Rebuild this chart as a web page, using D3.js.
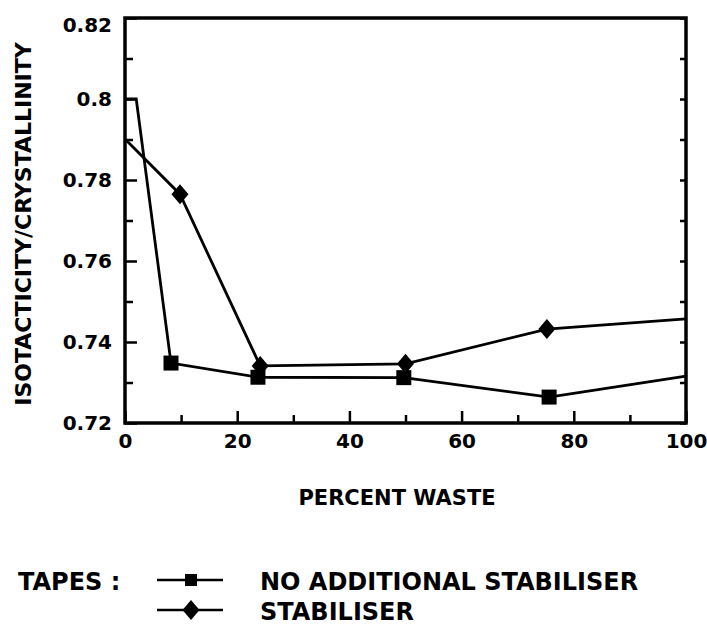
<!DOCTYPE html>
<html>
<head>
<meta charset="utf-8">
<script src="https://cdn.jsdelivr.net/npm/d3@7"></script>
<style>
  body { margin: 0; background: #fff; }
  svg { display: block; }
  text { font-family: "DejaVu Sans", sans-serif; font-weight: bold; fill: #000; }
</style>
</head>
<body>
<script>
// Isotacticity/crystallinity vs percent waste
let xTicks = [0, 20, 40, 60, 80, 100];
let xMinor = [10, 30, 50, 70, 90];
let yTicks = [0.72, 0.74, 0.76, 0.78, 0.80, 0.82];
let yMinor = [0.73, 0.75, 0.77, 0.79, 0.81];
let yTickLabels = ['0.72', '0.74', '0.76', '0.78', '0.8', '0.82'];

// no additional stabiliser (squares)
let plainX = [0, 2, 8.2, 23.7, 49.7, 75.6, 100];
let plainY = [0.800, 0.800, 0.7348, 0.7313, 0.7312, 0.7264, 0.7316];
let plainMark = [false, false, true, true, true, true, false];

// stabiliser (diamonds)
let stabX = [0, 9.8, 24.1, 50.0, 75.2, 100];
let stabY = [0.7901, 0.7765, 0.7341, 0.7346, 0.7432, 0.7457];
let stabMark = [false, true, true, true, true, false];

let legendNames = ['NO ADDITIONAL STABILISER', 'STABILISER'];

let W = 707, H = 625;
let plotL = 125, plotR = 686, plotT = 18, plotB = 423;

let svg = d3.select('body').append('svg')
    .attr('width', W)
    .attr('height', H);

let x = d3.scaleLinear().domain([0, 100]).range([plotL, plotR]);
let y = d3.scaleLinear().domain([0.72, 0.82]).range([plotB, plotT]);

// minor ticks (inward)
svg.append('g')
    .attr('transform', 'translate(0,' + plotB + ')')
    .call(d3.axisBottom(x).tickValues(xMinor).tickSizeInner(-8).tickSizeOuter(0).tickFormat(''))
    .call(g => g.select('.domain').remove());
svg.append('g')
    .attr('transform', 'translate(' + plotL + ',0)')
    .call(d3.axisLeft(y).tickValues(yMinor).tickSizeInner(-8).tickSizeOuter(0).tickFormat(''))
    .call(g => g.select('.domain').remove());
svg.append('g')
    .attr('transform', 'translate(' + plotR + ',0)')
    .call(d3.axisRight(y).tickValues(yMinor.concat(yTicks)).tickSizeInner(-6).tickSizeOuter(0).tickFormat(''))
    .call(g => g.select('.domain').remove());

// major ticks with labels
let xAxis = svg.append('g')
    .attr('transform', 'translate(0,' + plotB + ')')
    .call(d3.axisBottom(x).tickValues(xTicks).tickSizeInner(-12).tickSizeOuter(0).tickPadding(11).tickFormat(d3.format('d')));
xAxis.select('.domain').remove();
xAxis.selectAll('text').style('font-size', '20px').style('font-family', '"DejaVu Sans", sans-serif');

let yAxis = svg.append('g')
    .attr('transform', 'translate(' + plotL + ',0)')
    .call(d3.axisLeft(y).tickValues(yTicks).tickSizeInner(-12).tickSizeOuter(0).tickPadding(13)
        .tickFormat((d, i) => yTickLabels[i]));
yAxis.select('.domain').remove();
yAxis.selectAll('text').style('font-size', '20px').style('font-family', '"DejaVu Sans", sans-serif');
// top label sits a little below the frame corner
yAxis.selectAll('.tick').filter(d => d === 0.82).select('text').attr('dy', '0.68em');

svg.selectAll('.tick line').attr('stroke', '#000').attr('stroke-width', 2.5);

// frame
svg.append('rect')
    .attr('x', plotL).attr('y', plotT)
    .attr('width', plotR - plotL).attr('height', plotB - plotT)
    .attr('fill', 'none')
    .attr('stroke', '#000')
    .attr('stroke-width', 3.5);

let line = d3.line().x(d => x(d[0])).y(d => y(d[1]));

let plainPts = plainX.map((v, i) => [v, plainY[i], plainMark[i]]);
let stabPts = stabX.map((v, i) => [v, stabY[i], stabMark[i]]);

[plainPts, stabPts].forEach(pts => {
    svg.append('path')
        .datum(pts)
        .attr('d', line)
        .attr('fill', 'none')
        .attr('stroke', '#000')
        .attr('stroke-width', 2.8)
        .attr('stroke-linejoin', 'miter');
});

let square = s => 'M' + (-s / 2) + ',' + (-s / 2) + 'h' + s + 'v' + s + 'h' + (-s) + 'Z';
let diamond = (w, h) => 'M0,' + (-h / 2) + 'L' + (w / 2) + ',0L0,' + (h / 2) + 'L' + (-w / 2) + ',0Z';

svg.selectAll('.sq')
    .data(plainPts.filter(d => d[2]))
    .enter().append('path')
    .attr('class', 'sq')
    .attr('transform', d => 'translate(' + x(d[0]) + ',' + y(d[1]) + ')')
    .attr('d', square(15))
    .attr('fill', '#000');

svg.selectAll('.dm')
    .data(stabPts.filter(d => d[2]))
    .enter().append('path')
    .attr('class', 'dm')
    .attr('transform', d => 'translate(' + x(d[0]) + ',' + y(d[1]) + ')')
    .attr('d', diamond(17, 20))
    .attr('fill', '#000');

// axis titles
svg.append('text')
    .attr('transform', 'translate(31,224) rotate(-90)')
    .attr('text-anchor', 'middle')
    .style('font-size', '22px')
    .text('ISOTACTICITY/CRYSTALLINITY');

svg.append('text')
    .attr('x', 397).attr('y', 505)
    .attr('text-anchor', 'middle')
    .style('font-size', '21px')
    .text('PERCENT WASTE');

// legend
let legY = [580, 610];

svg.append('text')
    .attr('x', 18).attr('y', legY[0] + 10)
    .style('font-size', '24px')
    .text('TAPES :');

legendNames.forEach((name, i) => {
    let g = svg.append('g');
    g.append('line')
        .attr('x1', 157).attr('x2', 223)
        .attr('y1', legY[i]).attr('y2', legY[i])
        .attr('stroke', '#000')
        .attr('stroke-width', 2.5);
    g.append('path')
        .attr('transform', 'translate(191,' + legY[i] + ')')
        .attr('d', i === 0 ? square(12) : diamond(17, 20))
        .attr('fill', '#000');
    g.append('text')
        .attr('x', 260).attr('y', legY[i] + 10)
        .style('font-size', '24px')
        .text(name);
});
</script>
</body>
</html>
